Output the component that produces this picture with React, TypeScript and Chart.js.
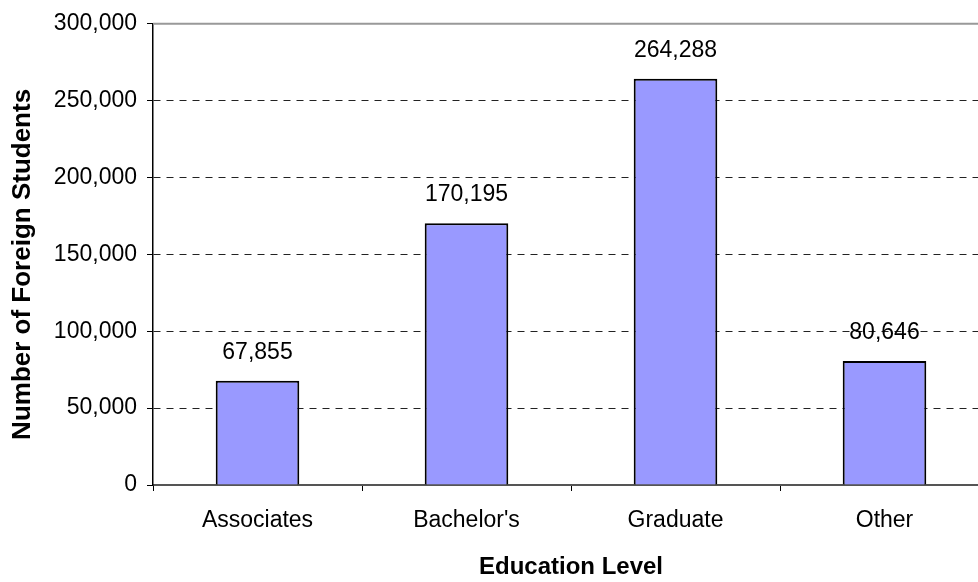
import React, { useEffect, useRef } from "react";
import { Chart, registerables } from "chart.js";

Chart.register(...registerables);

const categories: string[] = ["Associates", "Bachelor's", "Graduate", "Other"];
const students: number[] = [67855, 170195, 264288, 80646];
const yTicks: number[] = [0, 50000, 100000, 150000, 200000, 250000, 300000];
const xTitle = "Education Level";
const yTitle = "Number of Foreign Students";

const FONT = "'Liberation Sans', Arial, sans-serif";

const fmt = (v: number) => v.toLocaleString("en-US");

const plotFrame = {
  id: "plotFrame",
  afterDatasetsDraw(chart: any) {
    const { ctx, chartArea } = chart;
    ctx.save();
    ctx.strokeStyle = "#999999";
    ctx.lineWidth = 2;
    ctx.beginPath();
    ctx.moveTo(chartArea.left, chartArea.top);
    ctx.lineTo(chartArea.right, chartArea.top);
    ctx.stroke();
    ctx.restore();
  },
};

const yAxisTitle = {
  id: "yAxisTitle",
  afterDraw(chart: any) {
    const { ctx, chartArea } = chart;
    ctx.save();
    ctx.translate(23, (chartArea.top + chartArea.bottom) / 2 + 10);
    ctx.rotate(-Math.PI / 2);
    ctx.font = `bold 26px ${FONT}`;
    ctx.fillStyle = "#000000";
    ctx.textAlign = "center";
    ctx.textBaseline = "middle";
    ctx.fillText(yTitle, 0, 0);
    ctx.restore();
  },
};

const valueLabels = {
  id: "valueLabels",
  afterDatasetsDraw(chart: any) {
    const { ctx } = chart;
    const meta = chart.getDatasetMeta(0);
    ctx.save();
    ctx.font = `23px ${FONT}`;
    ctx.fillStyle = "#000000";
    ctx.textAlign = "center";
    ctx.textBaseline = "alphabetic";
    meta.data.forEach((bar: any, i: number) => {
      ctx.fillText(fmt(students[i]), bar.x, bar.y - 22);
    });
    ctx.restore();
  },
};

export default function App() {
  const canvasRef = useRef<HTMLCanvasElement | null>(null);

  useEffect(() => {
    document.body.style.margin = "0";
    const canvas = canvasRef.current;
    if (!canvas) return;
    const chart = new Chart(canvas, {
      type: "bar",
      data: {
        labels: categories,
        datasets: [
          {
            data: students,
            backgroundColor: "#9999FF",
            borderColor: "#000000",
            borderWidth: 2,
            barPercentage: 0.4,
            categoryPercentage: 1,
          },
        ],
      },
      options: {
        animation: false,
        responsive: true,
        maintainAspectRatio: false,
        devicePixelRatio: 1,
        layout: { padding: { top: 21, right: 11, left: 0, bottom: 0 } },
        plugins: {
          legend: { display: false },
          tooltip: { enabled: false },
          title: { display: false },
        },
        scales: {
          x: {
            grid: {
              display: true,
              drawOnChartArea: false,
              offset: true,
              tickLength: 6,
              tickColor: "#000000",
              tickWidth: 1,
            },
            border: { display: true, color: "#555555", width: 2 },
            ticks: {
              color: "#000000",
              font: { family: FONT, size: 23 },
              padding: 16,
              maxRotation: 0,
            },
            title: {
              display: true,
              text: xTitle,
              color: "#000000",
              font: { family: FONT, size: 24, weight: "bold" },
              padding: { top: 0, bottom: 0 },
            },
            afterFit(scale: any) {
              scale.height = 97;
            },
          },
          y: {
            min: 0,
            max: 300000,
            afterBuildTicks(scale: any) {
              scale.ticks = yTicks.map((v) => ({ value: v }));
            },
            grid: {
              color: (c: any) =>
                c.tick && (c.tick.value === 0 || c.tick.value === 300000)
                  ? "rgba(0,0,0,0)"
                  : "#222222",
              lineWidth: 1,
              tickLength: 6,
              tickColor: "#000000",
              tickWidth: 1,
              tickBorderDash: [],
            },
            border: { display: true, color: "#000000", width: 1.5, dash: [7, 6] },
            ticks: {
              color: "#000000",
              font: { family: FONT, size: 23 },
              padding: 10,
              callback: (v: any) => fmt(Number(v)),
            },
            title: { display: false },
            afterFit(scale: any) {
              scale.width = 153;
            },
          },
        },
      },
      plugins: [plotFrame, valueLabels, yAxisTitle],
    });
    return () => chart.destroy();
  }, []);

  return (
    <div
      style={{
        position: "fixed",
        left: 0,
        top: 0,
        width: 978,
        height: 582,
        overflow: "hidden",
        background: "#ffffff",
      }}
    >
      <div style={{ position: "relative", width: 1000, height: 582 }}>
        <canvas ref={canvasRef} />
      </div>
    </div>
  );
}
